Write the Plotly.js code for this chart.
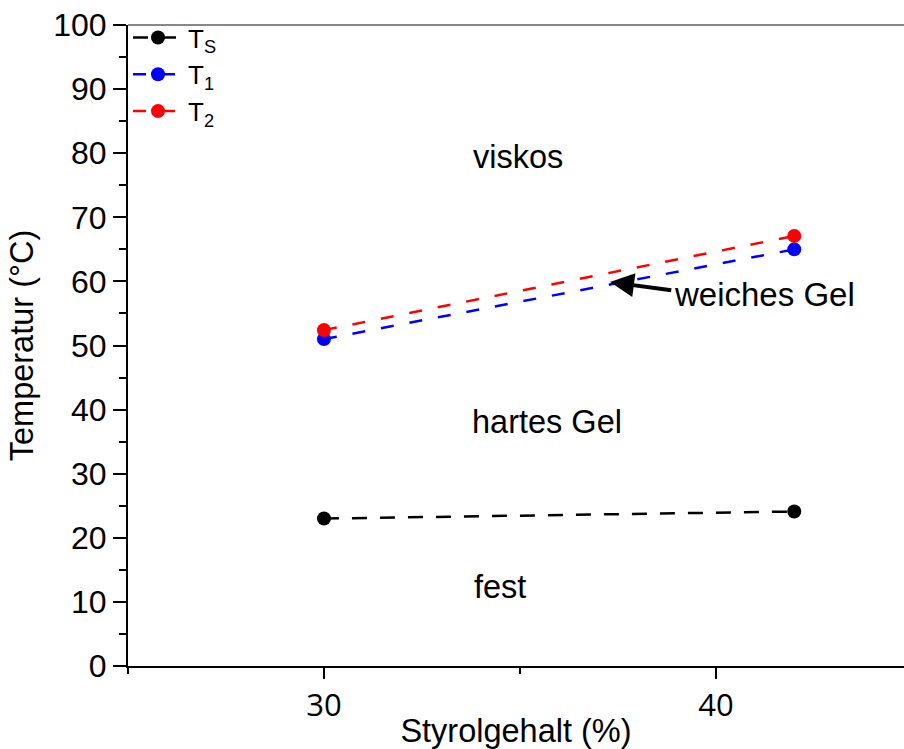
<!DOCTYPE html>
<html>
<head>
<meta charset="utf-8">
<script src="https://cdn.plot.ly/plotly-3.0.1.min.js"></script>
<style>html,body{margin:0;padding:0;background:#fff;}#chart{width:904px;height:749px;}</style>
</head>
<body>
<div id="chart"></div>
<script>
// Data
const styrol = [30, 42];
const Ts = [23, 24.1];
const T1 = [51, 65];
const T2 = [52.4, 67.1];
const seriesNames = ["T<sub>S</sub>", "T<sub>1</sub>", "T<sub>2</sub>"];
const xTicks = [30, 40];
const yTicks = [0, 10, 20, 30, 40, 50, 60, 70, 80, 90, 100];

const FONT = "Liberation Sans, Arial, sans-serif";

function trace(y, name, color, dash) {
  return {
    x: styrol, y: y, name: name, type: "scatter", mode: "lines+markers",
    line: {color: color, width: 2.5, dash: dash},
    marker: {color: color, size: 14}
  };
}

const data = [
  trace(Ts, seriesNames[0], "#000000", "15px,13px"),
  trace(T1, seriesNames[1], "#0000ff", "13px,16px"),
  trace(T2, seriesNames[2], "#ff0000", "13px,16px")
];

const layout = {
  width: 904, height: 749,
  margin: {l: 128, r: 0, t: 25, b: 83},
  paper_bgcolor: "#fff", plot_bgcolor: "#fff",
  font: {family: FONT, color: "#000", size: 32},
  showlegend: true,
  legend: {x: 0, y: 1.017, xanchor: "left", yanchor: "top", bgcolor: "rgba(0,0,0,0)",
           font: {family: FONT, size: 26, color: "#000"}, tracegroupgap: 0, itemwidth: 50},
  xaxis: {
    range: [25, 44.8], tickmode: "array", tickvals: xTicks, ticktext: xTicks.map(String),
    showgrid: false, zeroline: false, showline: true, linecolor: "#000", linewidth: 2,
    ticks: "outside", ticklen: 11, tickwidth: 2, tickcolor: "#000",
    tickfont: {family: "Open Sans, sans-serif", size: 31, color: "#000"},
    minor: {dtick: 5, tick0: 25, ticks: "outside", ticklen: 6, tickwidth: 2, tickcolor: "#000"},
    title: {text: "Styrolgehalt (%)", font: {family: FONT, size: 32.5, color: "#000"}, standoff: 6},
    automargin: false
  },
  yaxis: {
    range: [0, 100], tickmode: "array", tickvals: yTicks,
    showgrid: false, zeroline: false, showline: true, linecolor: "#000", linewidth: 2,
    ticks: "outside", ticklen: 13, tickwidth: 2, tickcolor: "#000",
    tickfont: {family: FONT, size: 32, color: "#000"},
    minor: {dtick: 5, ticks: "outside", ticklen: 7, tickwidth: 2, tickcolor: "#000"},
    title: {text: "Temperatur (°C)", font: {family: FONT, size: 32.5, color: "#000"}, standoff: 10},
    automargin: false
  },
  shapes: [
    {type: "line", xref: "paper", yref: "paper", x0: 0, x1: 1, y0: 1, y1: 1,
     line: {color: "#888", width: 2}}
  ],
  annotations: [
    {x: 34.95, y: 79.4, text: "viskos", showarrow: false, font: {size: 32.5}},
    {x: 35.69, y: 38.1, text: "hartes Gel", showarrow: false, font: {size: 32.5}},
    {x: 34.49, y: 12.3, text: "fest", showarrow: false, font: {size: 32.5}},
    {x: 41.24, y: 58.0, text: "weiches Gel", showarrow: false, font: {size: 33}},
    {x: 37.3, y: 59.9, ax: 38.9, ay: 58.6, axref: "x", ayref: "y", text: "",
     showarrow: true, arrowhead: 2, arrowsize: 1.2, arrowwidth: 4, arrowcolor: "#000", standoff: 0}
  ]
};

Plotly.newPlot("chart", data, layout, {displayModeBar: false, staticPlot: true});
</script>
</body>
</html>
